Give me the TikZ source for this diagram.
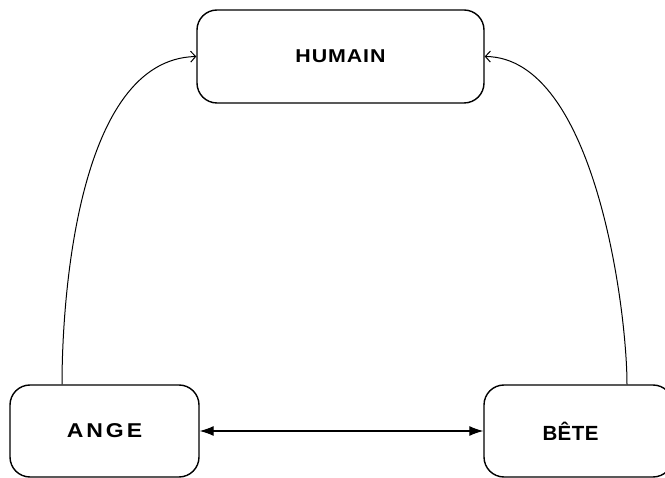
\documentclass[tikz,border=0pt]{standalone}
\usepackage{fontspec}
\setmainfont{Liberation Sans}
\newfontfamily\humfont[LetterSpace=5,FakeStretch=1.15]{Liberation Sans Bold}
\newfontfamily\angefont[LetterSpace=15,FakeStretch=1.15]{Liberation Sans Bold}
\newfontfamily\betefont[LetterSpace=2]{Liberation Sans Bold}
\usetikzlibrary{arrows.meta}
\begin{document}
\begin{tikzpicture}[x=1pt,y=-1pt,
  box/.style={draw, line width=1.4pt, rounded corners=20pt, inner sep=0pt},
  link/.style={line width=1.1pt, {Latex[length=14pt,width=10pt]}-{Latex[length=14pt,width=10pt]}},
  curve/.style={line width=1pt, -{Straight Barb[length=5pt,width=11pt]}}]
\useasboundingbox (0,0) rectangle (665,478);
\node[box, minimum width=287pt, minimum height=93pt] (h) at (340.5,56.5)
  {\fontsize{18.6pt}{20pt}\humfont HUMAIN};
\node[box, minimum width=189pt, minimum height=92pt] (a) at (104.5,431)
  {\fontsize{20pt}{21pt}\angefont ANGE};
\node[box, minimum width=189pt, minimum height=92pt] (b) at (578.5,431)
  {\fontsize{20.5pt}{21pt}\betefont BÊTE\hspace*{16pt}};
\draw[link] (a.east) -- (b.west);
\draw[curve] ([xshift=-42.5pt]a.north) .. controls +(0,-85) and +(-119,3) .. (h.west);
\draw[curve] ([xshift=48.5pt]b.north) .. controls +(0,-75) and +(110,1) .. (h.east);
\end{tikzpicture}
\end{document}
